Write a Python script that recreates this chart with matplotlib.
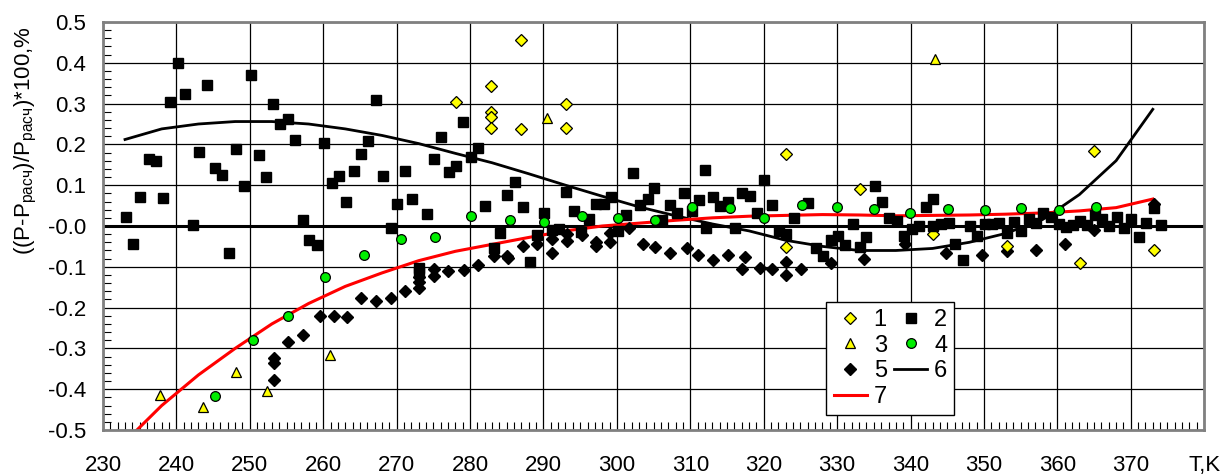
import numpy as np
import matplotlib.pyplot as plt
from matplotlib.ticker import MultipleLocator

plt.rcParams['font.family'] = ['Liberation Sans', 'DejaVu Sans']
plt.rcParams['mathtext.fontset'] = 'custom'
plt.rcParams['mathtext.rm'] = 'Liberation Sans'
plt.rcParams['mathtext.it'] = 'Liberation Sans'

# 1 - yellow diamonds
x1 = [278.1, 282.8, 282.8, 282.8, 282.8, 286.9, 287.0, 293.1, 293.1, 323.1,
      323.1, 333.1, 343.1, 353.1, 363.1, 365.0, 373.1]
y1 = [0.305, 0.344, 0.279, 0.267, 0.241, 0.457, 0.238, 0.30, 0.24, 0.176,
      -0.051, 0.091, -0.02, -0.05, -0.09, 0.185, -0.059]

# 2 - black squares
x2 = [233.1, 234.1, 235.1, 236.2, 237.2, 238.2, 239.1, 240.2, 241.2, 242.2,
      243.1, 244.1, 245.2, 246.2, 247.2, 248.1, 249.2, 250.1, 251.2, 252.2,
      253.1, 254.1, 255.2, 256.2, 257.2, 258.1, 259.1, 260.1, 261.2, 262.2,
      263.1, 264.2, 265.1, 266.1, 267.2, 268.1, 269.2, 270.1, 271.1, 272.1,
      273.1, 273.1, 274.1, 275.1, 276.1, 277.1, 278.1, 279.1, 280.1, 281.1,
      282.1, 283.2, 284.1, 285.1, 286.1, 287.2, 288.1, 289.1, 290.1, 291.1,
      292.1, 293.1, 294.1, 295.1, 296.2, 297.1, 298.2, 299.2, 300.1, 301.2,
      302.2, 303.2, 304.2, 305.1, 306.2, 307.2, 308.2, 309.2, 310.2, 311.2,
      312.0, 312.2, 313.1, 314.1, 315.1, 316.1, 317.1, 318.1, 319.1, 320.1,
      321.1, 322.1, 323.1, 324.1, 326.1, 327.1, 328.1, 329.1, 330.1, 331.1,
      332.1, 333.1, 334.0, 335.1, 336.1, 337.1, 338.1, 339.1, 340.2, 341.2,
      342.1, 343.0, 343.1, 344.1, 345.2, 346.1, 347.1, 348.1, 349.1, 350.1,
      351.1, 352.1, 353.1, 354.1, 355.1, 356.1, 357.1, 358.1, 359.1, 360.2,
      361.2, 362.1, 363.1, 364.1, 365.1, 366.1, 367.1, 368.1, 369.1, 370.1,
      371.1, 372.1, 373.1, 374.1]
y2 = [0.023, -0.045, 0.07, 0.165, 0.159, 0.068, 0.305, 0.399, 0.324, 0.002,
      0.182, 0.346, 0.143, 0.124, -0.067, 0.189, 0.099, 0.37, 0.174, 0.12,
      0.299, 0.25, 0.262, 0.21, 0.015, -0.035, -0.047, 0.203, 0.106, 0.123,
      0.058, 0.135, 0.176, 0.208, 0.308, 0.122, -0.006, 0.054, 0.136, 0.065,
      -0.102, -0.112, 0.029, 0.163, 0.217, 0.132, 0.147, 0.254, 0.168, 0.192,
      0.05, -0.053, -0.016, 0.075, 0.109, 0.046, -0.088, -0.023, 0.033, -0.011,
      -0.008, 0.083, 0.037, -0.015, 0.016, 0.055, 0.055, 0.072, -0.013, 0.026,
      0.13, 0.051, 0.067, 0.094, 0.015, 0.051, 0.032, 0.08, 0.037, 0.064,
      0.138, -0.004, 0.071, 0.048, 0.06, -0.004, 0.082, 0.073, 0.032, 0.112,
      0.051, -0.013, -0.02, 0.02, 0.057, -0.053, -0.073, -0.035, -0.024, -0.047,
      0.004, -0.051, -0.027, 0.099, 0.06, 0.019, 0.012, -0.024, -0.008, 0.0,
      0.047, 0.066, 0.0, 0.004, 0.008, -0.043, -0.083, 0.0, -0.024, 0.006,
      0.004, 0.008, -0.018, 0.011, -0.012, 0.016, 0.008, 0.031, 0.022, 0.004,
      -0.002, 0.002, 0.012, 0.002, 0.028, 0.016, 0.0, 0.022, -0.006, 0.016,
      -0.028, 0.008, 0.045, 0.002]

# 3 - yellow triangles
x3 = [237.7, 243.6, 248.1, 252.4, 260.9, 290.5, 343.4]
y3 = [-0.413, -0.443, -0.358, -0.405, -0.317, 0.264, 0.409]

# 4 - green circles
x4 = [245.3, 250.4, 255.2, 260.3, 265.6, 270.6, 275.2, 280.1, 285.4, 290.1,
      295.2, 300.2, 305.2, 310.3, 315.4, 320.1, 325.2, 330.0, 335.0, 339.9,
      345.1, 350.2, 355.1, 360.2, 365.2]
y4 = [-0.416, -0.28, -0.22, -0.124, -0.071, -0.033, -0.028, 0.025, 0.015, 0.011,
      0.024, 0.019, 0.014, 0.046, 0.043, 0.02, 0.051, 0.046, 0.042, 0.032,
      0.041, 0.039, 0.045, 0.039, 0.046]

# 5 - black diamonds
x5 = [253.3, 253.3, 253.3, 255.2, 257.3, 259.6, 261.4, 263.2, 265.2, 267.2,
      269.2, 271.1, 273.1, 273.1, 273.1, 275.1, 275.1, 277.0, 279.2, 281.1,
      283.2, 285.1, 285.2, 287.2, 289.1, 291.1, 291.1, 293.2, 293.2, 295.2,
      297.2, 297.2, 299.1, 299.1, 301.6, 303.6, 305.2, 307.2, 309.5, 311.1,
      313.1, 315.1, 317.5, 317.1, 319.5, 321.1, 323.1, 323.1, 325.1, 329.1,
      333.7, 339.2, 344.8, 349.8, 353.1, 357.1, 361.1, 365.0, 373.1]
y5 = [-0.378, -0.336, -0.323, -0.285, -0.267, -0.221, -0.22, -0.224, -0.176, -0.183,
      -0.176, -0.159, -0.125, -0.138, -0.152, -0.106, -0.122, -0.111, -0.108, -0.095,
      -0.073, -0.073, -0.078, -0.049, -0.045, -0.065, -0.031, -0.037, -0.02, -0.022,
      -0.038, -0.049, -0.038, -0.016, -0.004, -0.043, -0.051, -0.065, -0.053, -0.072,
      -0.084, -0.072, -0.076, -0.106, -0.102, -0.106, -0.089, -0.12, -0.106, -0.091,
      -0.081, -0.045, -0.065, -0.072, -0.061, -0.059, -0.045, -0.01, 0.055]

# 6 - black curve
x6 = [233, 238, 243, 248, 253, 258, 263, 268, 273, 278, 283, 288, 293, 298, 303,
      308, 313, 318, 323, 328, 333, 338, 343, 348, 353, 358, 360, 363, 368, 373]
y6 = [0.212, 0.238, 0.25, 0.256, 0.256, 0.25, 0.238, 0.222, 0.202, 0.178, 0.155,
      0.128, 0.10, 0.073, 0.047, 0.025, 0.005, -0.012, -0.035, -0.05, -0.06, -0.06,
      -0.055, -0.04, -0.018, 0.016, 0.04, 0.077, 0.16, 0.286]

# 7 - red curve
x7 = [233.5, 238, 243, 248, 253, 258, 263, 268, 273, 278, 283, 288, 293, 298, 303,
      308, 313, 318, 323, 328, 333, 338, 343, 348, 353, 358, 363, 368, 373]
y7 = [-0.52, -0.44, -0.365, -0.30, -0.24, -0.19, -0.148, -0.115, -0.085, -0.062,
      -0.045, -0.028, -0.012, 0.0, 0.007, 0.014, 0.02, 0.024, 0.026, 0.028, 0.027,
      0.025, 0.026, 0.027, 0.029, 0.032, 0.037, 0.045, 0.066]

xticks = np.arange(230, 381, 10)
xlabels = [str(t) for t in xticks[:-1]] + ['T,K']

fig = plt.figure(figsize=(12.29, 4.76), dpi=100)
ax = fig.add_axes([0.0838, 0.0966, 0.896, 0.8572])

ax.axhline(0, color='black', lw=2.2, zorder=1.5)
l6, = ax.plot(x6, y6, color='black', lw=2.0, zorder=2, label='6')
l7, = ax.plot(x7, y7, color='red', lw=2.2, zorder=2, label='7')
s5, = ax.plot(x5, y5, 'D', color='black', ms=6.5, ls='none', zorder=3, label='5')
s1, = ax.plot(x1, y1, 'D', mfc='#ffff00', mec='black', mew=0.9, ms=6, ls='none', zorder=3.5, label='1')
s2, = ax.plot(x2, y2, 's', color='black', ms=7.5, ls='none', zorder=4, label='2')
s3, = ax.plot(x3, y3, '^', mfc='#ffff00', mec='black', mew=0.9, ms=7, ls='none', zorder=4.5, label='3')
s4, = ax.plot(x4, y4, 'o', mfc='#00ee00', mec='black', mew=0.9, ms=7, ls='none', zorder=5, label='4')

ax.set_xlim(230, 380)
ax.set_ylim(-0.5, 0.5)
ax.set_xticks(xticks)
ax.set_xticklabels(xlabels)
ax.set_yticks(np.arange(-0.5, 0.51, 0.1))
ax.set_yticklabels(['%.1f' % v for v in np.arange(-0.5, 0.51, 0.1)])
ax.xaxis.set_minor_locator(MultipleLocator(1))
ax.yaxis.set_minor_locator(MultipleLocator(0.02))
ax.tick_params(which='both', direction='in', labelsize=16, color='black')
ax.tick_params(axis='x', which='major', length=0, pad=18)
ax.tick_params(axis='y', which='major', length=0, pad=12)
ax.tick_params(which='minor', length=6, width=0.8)
ax.grid(True, which='major', color='black', lw=0.9)
ax.set_axisbelow(True)
for sp in ax.spines.values():
    sp.set_color('#808080')
    sp.set_linewidth(2)

ax.set_ylabel(r'((P-P$_{\mathregular{расч}}$)/P$_{\mathregular{расч}}$)*100,%', fontsize=16)
ax.yaxis.set_label_coords(-0.058, 0.71)

leg = ax.legend([s1, s3, s5, l7, s2, s4, l6], ['1', '3', '5', '7', '2', '4', '6'],
                ncol=2, loc='lower left', bbox_to_anchor=(0.657, 0.037),
                fontsize=17, frameon=True, fancybox=False, framealpha=1,
                edgecolor='black', handlelength=1.4, handletextpad=0.3,
                columnspacing=0.3, labelspacing=0.15, borderpad=0.3, borderaxespad=0)
leg.get_frame().set_linewidth(1.0)
leg.set_zorder(10)

plt.savefig('out.png', dpi=100)
